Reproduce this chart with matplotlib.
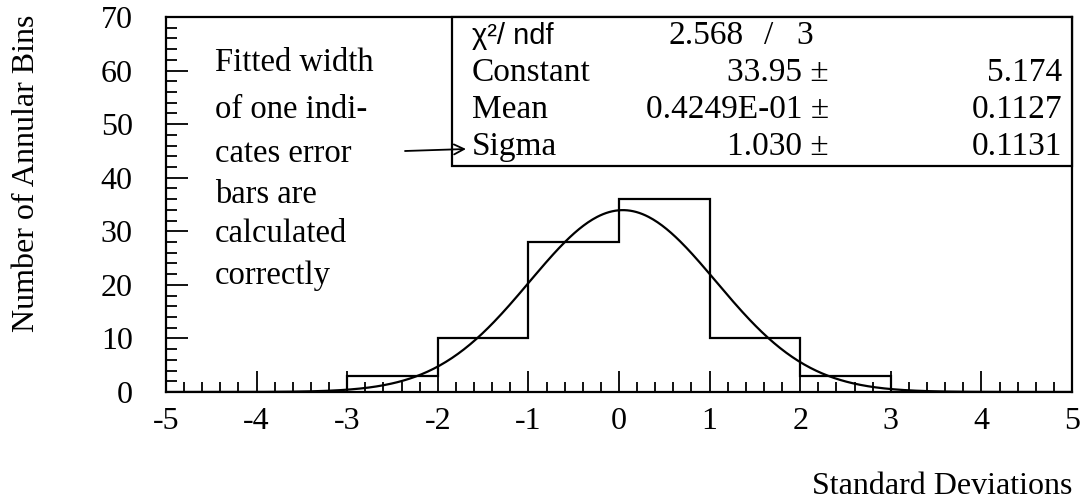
import numpy as np
import matplotlib
matplotlib.use("Agg")
import matplotlib.pyplot as plt
from matplotlib.patches import Rectangle

# Histogram of residuals in units of standard deviation
bin_edges = [-3, -2, -1, 0, 1, 2, 3]
bin_counts = [3, 10, 28, 36, 10, 3]

# Gaussian fit parameters
fit_constant = 33.95
fit_mean = 0.04249
fit_sigma = 1.030

x_ticks = [-5, -4, -3, -2, -1, 0, 1, 2, 3, 4, 5]
x_tick_labels = ["-5", "-4", "-3", "-2", "-1", "0", "1", "2", "3", "4", "5"]
y_ticks = [0, 10, 20, 30, 40, 50, 60, 70]
y_tick_labels = ["0", "10", "20", "30", "40", "50", "60", "70"]

stats_names = ["Constant", "Mean", "Sigma"]
stats_values = ["33.95 \u00b1", "0.4249E-01 \u00b1", "1.030 \u00b1"]
stats_errors = ["5.174", "0.1127", "0.1131"]
chi2_text = ["2.568", "/", "3"]

note_lines = ["Fitted width", "of one indi-", "cates error",
              "bars are", "calculated", "correctly"]

SERIF = "Liberation Serif"
SANS = "Liberation Sans"

W, H = 1083, 501
fig = plt.figure(figsize=(W / 100, H / 100), dpi=100)

# plot frame in pixel units
L, R, T, B = 166, 1072, 17, 392
ax = fig.add_axes([L / W, 1 - B / H, (R - L) / W, (B - T) / H])


def to_ax(px, py):
    """Convert pixel position to axes fraction."""
    return (px - L) / (R - L), (B - py) / (B - T)


ax.set_xlim(-5, 5)
ax.set_ylim(0, 70)
for s in ax.spines.values():
    s.set_linewidth(1.6)

ax.set_xticks(x_ticks)
ax.set_xticklabels(x_tick_labels, family=SERIF, fontsize=23)
ax.set_xticks(np.arange(-5, 5.01, 0.2), minor=True)
ax.set_yticks(y_ticks)
ax.set_yticklabels(y_tick_labels, family=SERIF, fontsize=23)
ax.set_yticks(np.arange(0, 70.1, 2), minor=True)
ax.tick_params(axis="x", which="major", direction="in", length=15, width=1.3, pad=11)
ax.tick_params(axis="x", which="minor", direction="in", length=7, width=1.3)
ax.tick_params(axis="y", which="major", direction="in", length=16, width=1.3, pad=24)
ax.tick_params(axis="y", which="minor", direction="in", length=8, width=1.3)

# histogram outline
ax.stairs(bin_counts, bin_edges, color="black", linewidth=1.6)

# fitted gaussian
xs = np.linspace(-5, 5, 600)
ys = fit_constant * np.exp(-0.5 * ((xs - fit_mean) / fit_sigma) ** 2)
ax.plot(xs, ys, color="black", linewidth=1.6)

# statistics box
bx0, by0 = to_ax(452, 166)
bx1, by1 = to_ax(R, T)
ax.add_patch(Rectangle((bx0, by0), bx1 - bx0, by1 - by0, transform=ax.transAxes,
                       facecolor="white", edgecolor="black", linewidth=1.6,
                       zorder=5, clip_on=False))

row_y = [36, 73, 110, 147]
fs_box = 24
x_lab = 472
ax.text(*to_ax(x_lab, row_y[0]), "\u03c7\u00b2/ ndf", transform=ax.transAxes,
        family=SANS, fontsize=21, va="center", ha="left", zorder=6)
for xp, t in zip([668, 764, 796], chi2_text):
    ax.text(*to_ax(xp, row_y[0]), t, transform=ax.transAxes, family=SERIF,
            fontsize=fs_box, va="center", ha="left", zorder=6)
for i, (n, v, e) in enumerate(zip(stats_names, stats_values, stats_errors)):
    yy = row_y[i + 1]
    ax.text(*to_ax(x_lab, yy), n, transform=ax.transAxes, family=SERIF,
            fontsize=fs_box, va="center", ha="left", zorder=6)
    ax.text(*to_ax(829, yy), v, transform=ax.transAxes, family=SERIF,
            fontsize=fs_box, va="center", ha="right", zorder=6)
    ax.text(*to_ax(1062, yy), e, transform=ax.transAxes, family=SERIF,
            fontsize=fs_box, va="center", ha="right", zorder=6)

# explanatory note with arrow to the Sigma row
note_y = [63, 110, 154, 195, 234, 276]
for yy, line in zip(note_y, note_lines):
    ax.text(*to_ax(215, yy), line, transform=ax.transAxes,
            family=SERIF, fontsize=23.5, va="center", ha="left")

ax.annotate("", xy=to_ax(466, 149), xytext=to_ax(405, 151),
            xycoords="axes fraction", textcoords="axes fraction",
            arrowprops=dict(arrowstyle="->", color="black", lw=1.3,
                            shrinkA=0, shrinkB=0, mutation_scale=18),
            zorder=7)

# axis titles
fig.text(27 / W, 1 - 173 / H, "Number of Annular Bins", rotation=90,
         family=SERIF, fontsize=23, ha="center", va="center")
fig.text(1072 / W, 1 - 494 / H, "Standard Deviations", family=SERIF,
         fontsize=23, ha="right", va="baseline")

fig.savefig("out.png", dpi=100)
